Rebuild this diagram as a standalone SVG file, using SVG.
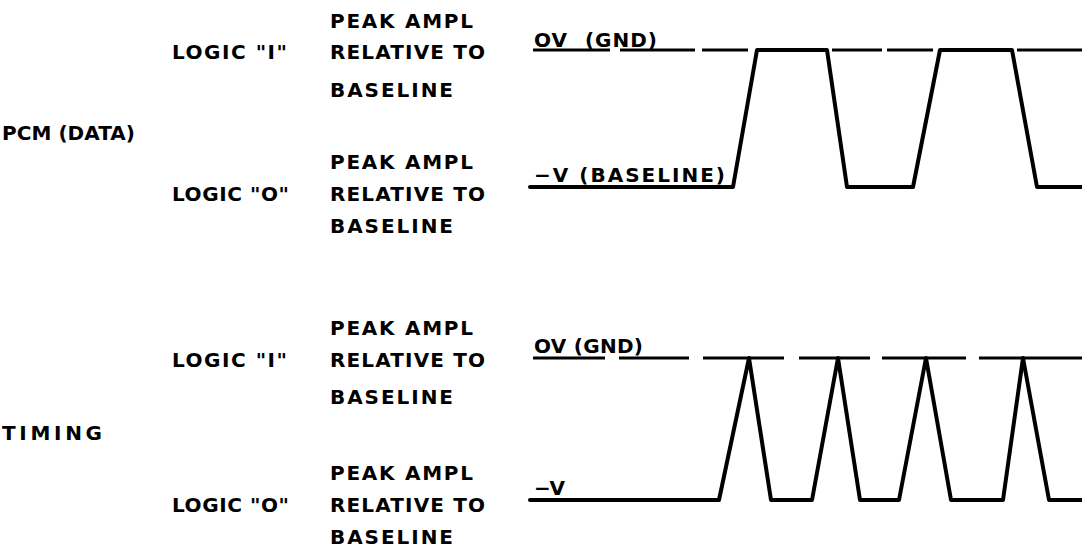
<svg xmlns="http://www.w3.org/2000/svg" width="1082" height="550" viewBox="0 0 1082 550">
<style>
text{font-family:"DejaVu Sans","Liberation Sans",Arial,sans-serif;font-weight:bold;font-size:20px;fill:#000}
.wave{fill:none;stroke:#000;stroke-width:4;stroke-linejoin:round;stroke-linecap:round}
.dash{fill:none;stroke:#000;stroke-width:3;stroke-linecap:butt}
</style>
<rect width="1082" height="550" fill="#fff"/>
<g id="pcm-labels">
<text x="2" y="140" textLength="133" lengthAdjust="spacing">PCM (DATA)</text>
<text x="172" y="59" textLength="115" lengthAdjust="spacing">LOGIC "I"</text>
<text x="330" y="28" textLength="143" lengthAdjust="spacing">PEAK AMPL</text>
<text x="330" y="59" textLength="155" lengthAdjust="spacing">RELATIVE TO</text>
<text x="330" y="97" textLength="123" lengthAdjust="spacing">BASELINE</text>
<text x="172" y="201" textLength="117" lengthAdjust="spacing">LOGIC "O"</text>
<text x="330" y="169" textLength="143" lengthAdjust="spacing">PEAK AMPL</text>
<text x="330" y="201" textLength="155" lengthAdjust="spacing">RELATIVE TO</text>
<text x="330" y="233" textLength="123" lengthAdjust="spacing">BASELINE</text>
</g>
<g id="timing-labels">
<text x="2" y="440" textLength="100" lengthAdjust="spacing">TIMING</text>
<text x="172" y="367" textLength="115" lengthAdjust="spacing">LOGIC "I"</text>
<text x="330" y="335" textLength="143" lengthAdjust="spacing">PEAK AMPL</text>
<text x="330" y="367" textLength="155" lengthAdjust="spacing">RELATIVE TO</text>
<text x="330" y="404" textLength="123" lengthAdjust="spacing">BASELINE</text>
<text x="172" y="512" textLength="117" lengthAdjust="spacing">LOGIC "O"</text>
<text x="330" y="480" textLength="143" lengthAdjust="spacing">PEAK AMPL</text>
<text x="330" y="512" textLength="155" lengthAdjust="spacing">RELATIVE TO</text>
<text x="330" y="544" textLength="123" lengthAdjust="spacing">BASELINE</text>
</g>
<g id="pcm-waveform">
<text x="534" y="47" letter-spacing="1">OV<tspan dx="9"> (GND)</tspan></text>
<text x="534" y="182" textLength="191" lengthAdjust="spacing">−V (BASELINE)</text>
<path class="dash" d="M533,50H610M620,50H695M702,50H748M832,50H882M887,50H933M1017,50H1082"/>
<path class="wave" d="M530,187H733L757,50H827L847,187H913L940,50H1012L1037,187H1082"/>
</g>
<g id="timing-waveform">
<text x="534" y="353" textLength="109" lengthAdjust="spacing">OV (GND)</text>
<text x="534" y="495" textLength="31" lengthAdjust="spacing">−V</text>
<path class="dash" d="M533,358H605M619,358H689M703,358H784M799,358H870M882,358H966M979,358H1082"/>
<path class="wave" d="M530,500H719L749,358L771,500H812L838,358L860,500H899L926,358L951,500H1003L1023,358L1049,500H1082"/>
</g>
</svg>
